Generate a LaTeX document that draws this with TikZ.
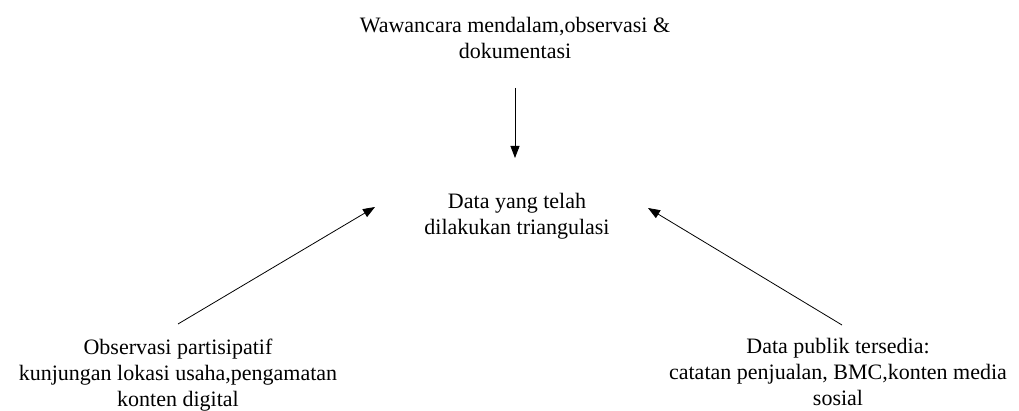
\documentclass[tikz,border=0pt]{standalone}
\usepackage{fontspec}
\setmainfont{Liberation Serif}
\usetikzlibrary{arrows.meta}
\begin{document}
\begin{tikzpicture}[x=1pt,y=1pt,
  lbl/.style={align=center,inner sep=0pt,font=\fontsize{22}{26}\selectfont},
  conn/.style={line width=0.8pt,-{Triangle[length=12pt,width=9pt]}}]
\useasboundingbox (0,0) rectangle (1019,410);
\node[lbl] (top) at (515,372) {Wawancara mendalam,observasi \&\\dokumentasi};
\node[lbl] (mid) at (517,194) {Data yang telah\\dilakukan triangulasi};
\node[lbl,anchor=north] (left) at (178,71.5) {Observasi partisipatif\\kunjungan lokasi usaha,pengamatan\\konten digital};
\node[lbl,anchor=north] (right) at (838,71.5) {Data publik tersedia:\\catatan penjualan, BMC,konten media\\sosial};
\coordinate (tA) at (515,322);
\coordinate (tB) at (515,252);
\coordinate (lA) at (178,86);
\coordinate (lB) at (375,203);
\coordinate (rA) at (842,85);
\coordinate (rB) at (648,202);
\draw[conn] (tA) -- (tB);
\draw[conn] (lA) -- (lB);
\draw[conn] (rA) -- (rB);
\end{tikzpicture}
\end{document}
